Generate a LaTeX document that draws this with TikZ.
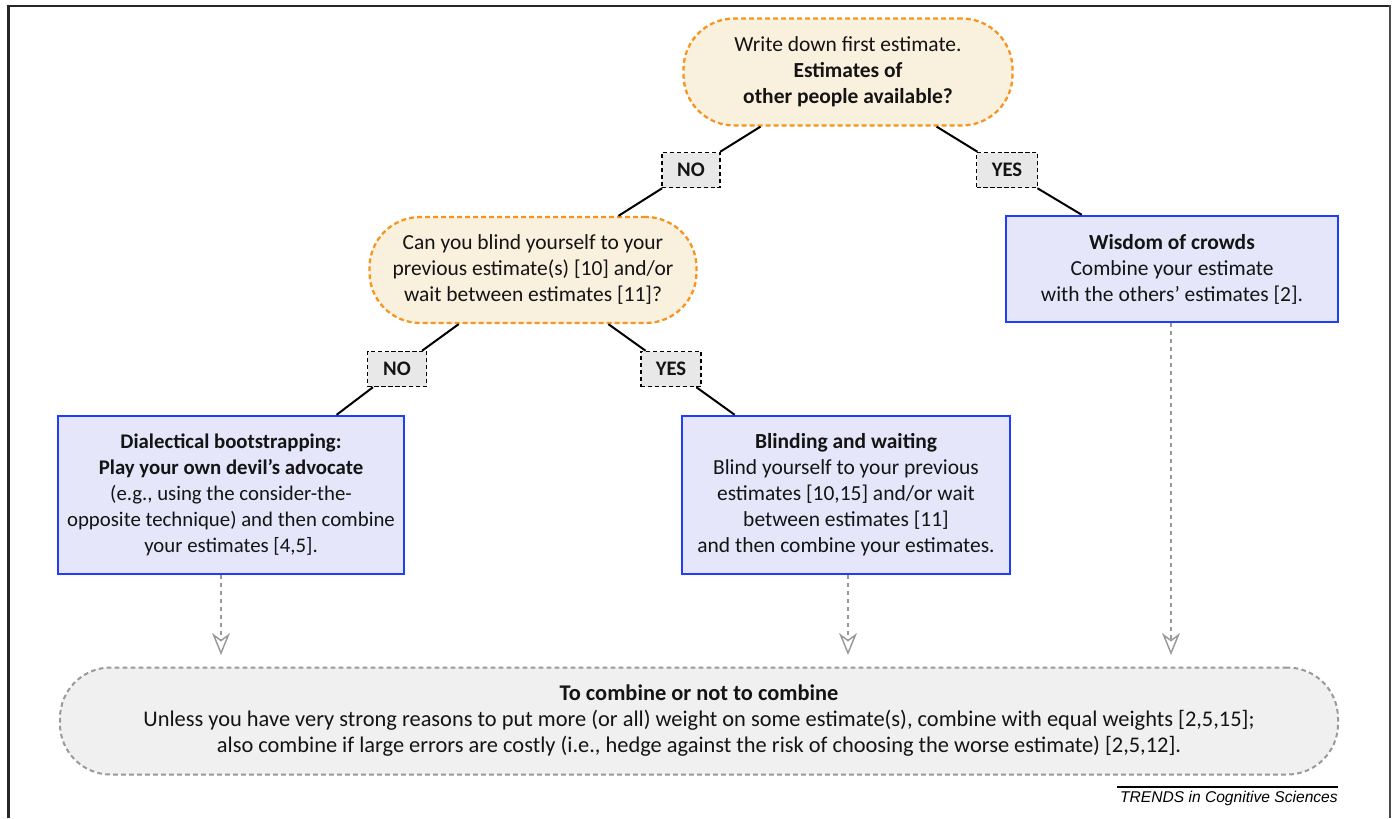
\documentclass[tikz,border=0pt]{standalone}
\usepackage{fontspec}
\setmainfont{Carlito}
\newfontfamily\footfont{Liberation Sans}
\usetikzlibrary{arrows.meta}
\newcommand\pxu{0.75pt}
\definecolor{orgline}{HTML}{F5951E}
\definecolor{orgfill}{HTML}{FAF0DE}
\definecolor{bluline}{HTML}{1F3DFF}
\definecolor{blufill}{HTML}{E5E6FA}
\definecolor{lblfill}{HTML}{E8E8E8}
\definecolor{botfill}{HTML}{F0F0F0}
\definecolor{grayline}{HTML}{999999}
\definecolor{txt}{HTML}{141414}
\tikzset{
  decision/.style={draw=orgline, fill=orgfill, line width=1.7pt, dash pattern=on 3.6pt off 2.4pt,
    rounded corners=38pt, align=center, inner sep=0pt, text=txt},
  action/.style={draw=bluline, fill=blufill, line width=1.8pt, align=center, inner sep=0pt, text=txt},
  answer/.style={draw=black, fill=lblfill, line width=1.1pt, dash pattern=on 3.2pt off 2pt,
    align=center, inner sep=0pt, font=\fontsize{15.5}{19.5}\selectfont\bfseries,
    minimum height=35*\pxu, text=txt},
  final/.style={draw=grayline, fill=botfill, line width=1.5pt, dash pattern=on 3.5pt off 2.5pt,
    rounded corners=38pt, align=center, inner sep=0pt, text=txt, font=\fontsize{16.8}{19.5}\selectfont},
  branch/.style={draw=black, line width=1.5pt},
  flow/.style={draw=grayline, line width=1.4pt, dash pattern=on 3pt off 3pt,
    -{Stealth[open, length=16.5pt, width=13.5pt, inset=5pt, line width=1.1pt]}},
}
\begin{document}
\begin{tikzpicture}[x=0.75pt, y=-0.75pt, font=\fontsize{16.1}{19.5}\selectfont]
\useasboundingbox (0,0) rectangle (1393,818);
% frame
\draw[line width=1.6pt, black!85] (8.5,818) -- (8.5,6) -- (1390,6);
\draw[line width=2.2pt, black!70] (1390,5) -- (1390,818);

\node[decision, minimum width=329*\pxu, minimum height=107*\pxu] (q1) at (848,72)
  {Write down first estimate.\\\textbf{Estimates of}\\\textbf{other people available?}};
\node[decision, minimum width=327*\pxu, minimum height=106*\pxu] (q2) at (533,270)
  {Can you blind yourself to your\\previous estimate(s) [10] and/or\\wait between estimates [11]?};

\node[answer, minimum width=58*\pxu] (no1) at (691,170) {NO};
\node[answer, minimum width=61*\pxu] (yes1) at (1007,170) {YES};
\node[answer, minimum width=59*\pxu] (no2) at (397,369) {NO};
\node[answer, minimum width=60*\pxu] (yes2) at (671,369) {YES};

\node[action, minimum width=346*\pxu, minimum height=158*\pxu, font=\fontsize{15.6}{19.5}\selectfont] (dial) at (231,495)
  {\textbf{Dialectical bootstrapping:}\\\textbf{Play your own devil’s advocate}\\(e.g., using the consider-the-\\opposite technique) and then combine\\your estimates [4,5].};
\node[action, minimum width=328*\pxu, minimum height=158*\pxu] (blind) at (846,495)
  {\textbf{Blinding and waiting}\\Blind yourself to your previous\\estimates [10,15] and/or wait\\between estimates [11]\\and then combine your estimates.};
\node[action, minimum width=332*\pxu, minimum height=106*\pxu] (wis) at (1172,269)
  {\textbf{Wisdom of crowds}\\Combine your estimate\\with the others’ estimates [2].};

\node[final, minimum width=1278*\pxu, minimum height=107*\pxu] (comb) at (699,721)
  {\textbf{To combine or not to combine}\\Unless you have very strong reasons to put more (or all) weight on some estimate(s), combine with equal weights [2,5,15];\\also combine if large errors are costly (i.e., hedge against the risk of choosing the worse estimate) [2,5,12].};

\draw[branch] (q1) -- (no1);
\draw[branch] (no1) -- (q2);
\draw[branch] (q1) -- (yes1);
\draw[branch] (yes1) -- (wis);
\draw[branch] (q2) -- (no2);
\draw[branch] (no2) -- (dial);
\draw[branch] (q2) -- (yes2);
\draw[branch] (yes2) -- (blind);

\coordinate (e1) at (221,655);
\coordinate (e2) at (848,655);
\coordinate (e3) at (1171,655);
\draw[flow] (dial.south -| e1) -- (e1);
\draw[flow] (blind.south -| e2) -- (e2);
\draw[flow] (wis.south -| e3) -- (e3);

\coordinate (fl) at (1117,787);
\coordinate (fr) at (1338,787);
\draw[line width=0.8pt] (fl) -- (fr);
\node[anchor=north east, inner sep=0pt, font=\footfont\itshape\fontsize{11.7}{13}\selectfont] (foot) at (1338,791) {TRENDS in Cognitive Sciences};
\end{tikzpicture}
\end{document}
